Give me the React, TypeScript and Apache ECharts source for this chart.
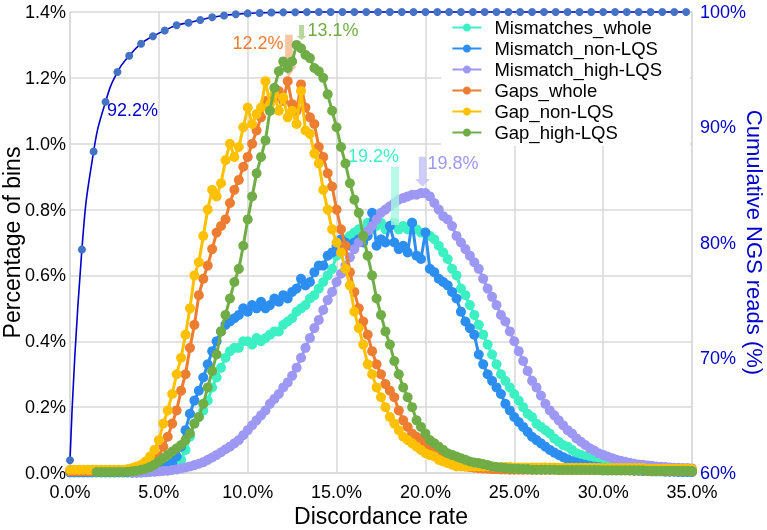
import React, { useEffect, useRef } from "react";
import * as echarts from "echarts";

// Discordance-rate bins (%), 0.25% apart, 0% .. 35%
const bins: number[] = Array.from({ length: 141 }, (_, i) => i * 0.25);

const seriesNames = [
  "Mismatches_whole",
  "Mismatch_non-LQS",
  "Mismatch_high-LQS",
  "Gaps_whole",
  "Gap_non-LQS",
  "Gap_high-LQS",
];
const seriesColors = ["#3DF0C4", "#2B8EF0", "#9C98F4", "#ED7D31", "#FFC000", "#70AD47"];

// Percentage of bins (%), one value per bin
const mismatchesWhole = [
  0.002, 0.002, 0.002, 0.002, 0.002, 0.002, 0.002, 0.002, 0.002, 0.002, 0.002, 0.002, 0.002, 0.002, 0.002, 0.002, 0.002, 0.003, 0.004, 0.005,
  0.007, 0.009, 0.012, 0.016, 0.022, 0.04, 0.07, 0.11, 0.15, 0.17, 0.19, 0.22, 0.26, 0.29, 0.32, 0.35, 0.37, 0.38, 0.38, 0.40,
  0.40, 0.39, 0.41, 0.40, 0.41, 0.42, 0.43, 0.43, 0.45, 0.46, 0.47, 0.49, 0.50, 0.51, 0.53, 0.54, 0.56, 0.58, 0.60, 0.62,
  0.66, 0.68, 0.71, 0.72, 0.73, 0.74, 0.74, 0.76, 0.74, 0.75, 0.76, 0.74, 0.75, 0.76, 0.74, 0.75, 0.74, 0.76, 0.74, 0.73,
  0.73, 0.72, 0.71, 0.69, 0.67, 0.65, 0.62, 0.60, 0.56, 0.54, 0.51, 0.48, 0.45, 0.42, 0.39, 0.36, 0.33, 0.30, 0.28, 0.26,
  0.24, 0.22, 0.20, 0.18, 0.17, 0.15, 0.14, 0.13, 0.12, 0.105, 0.095, 0.085, 0.08, 0.07, 0.06, 0.055, 0.05, 0.045, 0.04, 0.035,
  0.03, 0.026, 0.022, 0.02, 0.017, 0.015, 0.013, 0.011, 0.01, 0.009, 0.008, 0.008, 0.007, 0.007, 0.006, 0.006, 0.005, 0.005, 0.005, 0.004,
  0.004,
];
const mismatchNonLqs = [
  0.002, 0.002, 0.002, 0.002, 0.002, 0.002, 0.002, 0.002, 0.002, 0.002, 0.002, 0.002, 0.002, 0.002, 0.002, 0.002, 0.002, 0.004, 0.006, 0.008,
  0.012, 0.016, 0.022, 0.03, 0.05, 0.08, 0.13, 0.18, 0.22, 0.25, 0.29, 0.33, 0.37, 0.40, 0.43, 0.45, 0.46, 0.47, 0.48, 0.50,
  0.49, 0.51, 0.50, 0.52, 0.50, 0.51, 0.53, 0.52, 0.54, 0.53, 0.55, 0.56, 0.59, 0.57, 0.58, 0.61, 0.63, 0.63, 0.66, 0.67,
  0.69, 0.71, 0.70, 0.69, 0.70, 0.71, 0.70, 0.72, 0.79, 0.69, 0.71, 0.70, 0.75, 0.70, 0.68, 0.69, 0.67, 0.76, 0.66, 0.65,
  0.73, 0.62, 0.61, 0.59, 0.58, 0.57, 0.55, 0.53, 0.49, 0.46, 0.44, 0.42, 0.36, 0.33, 0.30, 0.28, 0.26, 0.24, 0.21, 0.19,
  0.17, 0.155, 0.14, 0.125, 0.11, 0.10, 0.09, 0.08, 0.07, 0.062, 0.055, 0.048, 0.042, 0.036, 0.032, 0.028, 0.025, 0.022, 0.02, 0.018,
  0.016, 0.014, 0.012, 0.011, 0.01, 0.009, 0.008, 0.007, 0.007, 0.006, 0.006, 0.005, 0.005, 0.005, 0.004, 0.004, 0.004, 0.003, 0.003, 0.003,
  0.003,
];
const mismatchHighLqs = [
  null, null, null, null, null, null, null, null, null, null, null, null, null, null, 0.001, 0.001, 0.002, 0.002, 0.003, 0.004,
  0.005, 0.006, 0.007, 0.009, 0.011, 0.014, 0.017, 0.02, 0.024, 0.028, 0.033, 0.04, 0.047, 0.055, 0.063, 0.072, 0.08, 0.09, 0.10, 0.115,
  0.13, 0.145, 0.16, 0.175, 0.19, 0.21, 0.225, 0.24, 0.26, 0.275, 0.295, 0.32, 0.35, 0.38, 0.41, 0.44, 0.465, 0.495, 0.525, 0.55,
  0.58, 0.605, 0.63, 0.655, 0.68, 0.70, 0.72, 0.735, 0.75, 0.77, 0.79, 0.80, 0.81, 0.82, 0.83, 0.835, 0.84, 0.845, 0.845, 0.85,
  0.85, 0.84, 0.82, 0.80, 0.78, 0.77, 0.75, 0.72, 0.70, 0.68, 0.66, 0.64, 0.62, 0.59, 0.56, 0.535, 0.51, 0.48, 0.46, 0.43,
  0.40, 0.37, 0.34, 0.31, 0.28, 0.26, 0.235, 0.21, 0.19, 0.175, 0.16, 0.145, 0.13, 0.12, 0.105, 0.095, 0.085, 0.075, 0.068, 0.06,
  0.055, 0.05, 0.045, 0.04, 0.037, 0.034, 0.031, 0.028, 0.026, 0.025, 0.023, 0.022, 0.02, 0.019, 0.018, 0.017, 0.016, 0.016, 0.015, 0.015,
  0.014,
];
const gapsWhole = [
  0.005, 0.005, 0.005, 0.005, 0.005, 0.005, 0.005, 0.005, 0.005, 0.005, 0.005, 0.005, 0.005, 0.008, 0.01, 0.012, 0.015, 0.02, 0.03, 0.04,
  0.05, 0.08, 0.11, 0.15, 0.19, 0.25, 0.30, 0.38, 0.45, 0.54, 0.59, 0.63, 0.68, 0.73, 0.75, 0.77, 0.82, 0.86, 0.89, 0.93,
  0.96, 1.00, 1.04, 1.08, 1.13, 1.10, 1.14, 1.16, 1.13, 1.19, 1.12, 1.10, 1.18, 1.11, 1.08, 1.06, 0.99, 0.96, 0.91, 0.87,
  0.80, 0.74, 0.69, 0.61, 0.55, 0.50, 0.46, 0.42, 0.37, 0.33, 0.30, 0.27, 0.25, 0.23, 0.19, 0.16, 0.14, 0.12, 0.11, 0.10,
  0.08, 0.07, 0.065, 0.055, 0.045, 0.04, 0.035, 0.03, 0.025, 0.02, 0.018, 0.016, 0.015, 0.014, 0.013, 0.012, 0.012, 0.011, 0.011, 0.01,
  0.01, 0.01, 0.01, 0.01, 0.01, 0.01, 0.01, 0.01, 0.01, 0.01, 0.009, 0.009, 0.009, 0.009, 0.009, 0.009, 0.009, 0.009, 0.009, 0.009,
  0.008, 0.008, 0.008, 0.008, 0.008, 0.008, 0.008, 0.008, 0.008, 0.008, 0.006, 0.006, 0.006, 0.006, 0.006, 0.006, 0.006, 0.006, 0.006, 0.006,
  0.005,
];
const gapNonLqs = [
  0.01, 0.01, 0.01, 0.01, 0.01, 0.01, 0.01, 0.01, 0.01, 0.01, 0.01, 0.01, 0.01, 0.012, 0.015, 0.02, 0.025, 0.035, 0.05, 0.07,
  0.10, 0.15, 0.19, 0.24, 0.30, 0.35, 0.42, 0.50, 0.60, 0.64, 0.72, 0.80, 0.86, 0.84, 0.88, 0.95, 1.00, 0.96, 0.99, 1.05,
  1.11, 1.06, 1.09, 1.11, 1.19, 1.12, 1.15, 1.10, 1.14, 1.08, 1.10, 1.06, 1.16, 1.04, 1.03, 0.97, 0.94, 0.86, 0.80, 0.74,
  0.70, 0.67, 0.62, 0.57, 0.49, 0.44, 0.39, 0.33, 0.30, 0.26, 0.23, 0.20, 0.17, 0.15, 0.13, 0.11, 0.10, 0.09, 0.08, 0.07,
  0.06, 0.055, 0.05, 0.04, 0.035, 0.03, 0.025, 0.02, 0.02, 0.02, 0.02, 0.02, 0.02, 0.02, 0.02, 0.02, 0.018, 0.018, 0.018, 0.018,
  0.017, 0.017, 0.017, 0.017, 0.017, 0.017, 0.017, 0.017, 0.017, 0.017, 0.016, 0.016, 0.016, 0.016, 0.016, 0.016, 0.016, 0.016, 0.016, 0.016,
  0.015, 0.015, 0.015, 0.015, 0.015, 0.015, 0.015, 0.015, 0.015, 0.015, 0.013, 0.013, 0.013, 0.013, 0.013, 0.013, 0.013, 0.013, 0.013, 0.013,
  0.012,
];
const gapHighLqs = [
  null, null, null, null, null, null, 0.003, 0.003, 0.003, 0.003, 0.003, 0.003, 0.003, 0.004, 0.005, 0.007, 0.01, 0.013, 0.018, 0.025,
  0.035, 0.045, 0.055, 0.065, 0.075, 0.085, 0.10, 0.12, 0.15, 0.17, 0.21, 0.26, 0.31, 0.36, 0.43, 0.48, 0.53, 0.58, 0.62, 0.69,
  0.77, 0.84, 0.91, 0.96, 1.01, 1.10, 1.17, 1.22, 1.25, 1.23, 1.25, 1.30, 1.29, 1.27, 1.26, 1.23, 1.22, 1.20, 1.15, 1.10,
  1.05, 0.99, 0.94, 0.88, 0.83, 0.79, 0.72, 0.66, 0.60, 0.53, 0.48, 0.43, 0.39, 0.34, 0.30, 0.26, 0.23, 0.20, 0.16, 0.14,
  0.12, 0.10, 0.09, 0.08, 0.07, 0.06, 0.055, 0.05, 0.045, 0.04, 0.035, 0.032, 0.03, 0.027, 0.024, 0.02, 0.018, 0.017, 0.015, 0.014,
  0.013, 0.013, 0.012, 0.012, 0.01, 0.01, 0.01, 0.01, 0.01, 0.01, 0.009, 0.009, 0.009, 0.009, 0.009, 0.009, 0.009, 0.009, 0.009, 0.009,
  0.008, 0.008, 0.008, 0.008, 0.008, 0.008, 0.008, 0.008, 0.008, 0.008, 0.007, 0.007, 0.007, 0.007, 0.007, 0.007, 0.007, 0.007, 0.007, 0.007,
  0.006,
];
const seriesValues = [mismatchesWhole, mismatchNonLqs, mismatchHighLqs, gapsWhole, gapNonLqs, gapHighLqs];

// Cumulative NGS reads (%), right axis
const cumX = [
  0, 0.67, 1.33, 2, 2.67, 3.33, 4, 4.67, 5.33, 6, 6.67, 7.33, 8, 8.67, 9.33, 10, 10.67, 11.33, 12, 12.67, 13.33,
  14, 14.67, 15.33, 16, 16.67, 17.33, 18, 18.67, 19.33, 20, 20.67, 21.33, 22, 22.67, 23.33, 24, 24.67, 25.33, 26,
  26.67, 27.33, 28, 28.67, 29.33, 30, 30.67, 31.33, 32, 32.67, 33.33, 34, 34.67,
];
const cumY = [
  61.1, 79.4, 87.9, 92.2, 94.8, 96.2, 97.25, 97.9, 98.4, 98.85, 99.07, 99.3, 99.54, 99.7, 99.8, 99.88, 99.92, 99.95, 99.97, 99.98, 99.99,
  100, 100, 100, 100, 100, 100, 100, 100, 100, 100, 100, 100, 100, 100, 100, 100, 100, 100, 100,
  100, 100, 100, 100, 100, 100, 100, 100, 100, 100, 100, 100, 100,
];

// Peak annotations
const peakLabels = ["12.2%", "13.1%", "19.2%", "19.8%"];
const cumLabel = "92.2%";

const FONT = "'Liberation Sans', Arial, Helvetica, sans-serif";
const ARROW = "path://M25,0 L75,0 L75,74 L100,74 L50,100 L0,74 L25,74 Z";
const GRID = "#d9d9d9";

function textPoint(coord: number[], text: string, color: string) {
  return {
    coord,
    symbol: "rect",
    symbolSize: 1,
    itemStyle: { color: "rgba(0,0,0,0)" },
    label: { show: true, position: "inside", formatter: text, color, fontSize: 18, fontFamily: FONT },
  };
}
function arrowPoint(coord: number[], size: number[], color: string, shape = ARROW) {
  return {
    coord,
    symbol: shape,
    symbolSize: size,
    symbolOffset: [0, "-50%"],
    itemStyle: { color },
    label: { show: false },
  };
}

export default function App() {
  const ref = useRef<HTMLDivElement>(null);
  useEffect(() => {
    const chart = echarts.init(ref.current!, null, { renderer: "svg" });

    const marks: any[] = [
      { data: [arrowPoint([18.29, 0.753], [8, 58], "rgba(165,246,224,0.8)", "rect"), textPoint([17.08, 0.963], peakLabels[2], "#3DEFC3")] },
      { data: [] },
      { data: [arrowPoint([19.84, 0.869], [15, 30], "rgba(197,195,248,0.85)"), textPoint([21.55, 0.942], peakLabels[3], "#9C98F4")] },
      { data: [arrowPoint([12.32, 1.203], [15, 42], "rgba(244,177,131,0.75)"), textPoint([10.58, 1.307], peakLabels[0], "#ED7D31")] },
      { data: [] },
      { data: [arrowPoint([13.03, 1.315], [10, 15], "rgba(169,209,142,0.85)"), textPoint([14.8, 1.345], peakLabels[1], "#70AD47")] },
    ];

    const series: any[] = seriesNames.map((name, si) => ({
      name,
      type: "line",
      yAxisIndex: 0,
      data: bins.map((b, i) => [b, seriesValues[si][i]]).filter((p) => p[1] !== null),
      symbol: "circle",
      symbolSize: 10,
      showSymbol: true,
      clip: false,
      color: seriesColors[si],
      lineStyle: { width: 3, color: seriesColors[si] },
      itemStyle: { color: seriesColors[si] },
      z: 2 + si,
      markPoint: { ...marks[si], silent: true, animation: false },
    }));

    series.push({
      name: "Cumulative",
      type: "line",
      yAxisIndex: 1,
      data: cumX.map((x, i) => [x, cumY[i]]),
      smooth: true,
      symbol: "circle",
      symbolSize: 8,
      clip: false,
      lineStyle: { width: 1.6, color: "#0000CC" },
      itemStyle: { color: "#4472C4" },
      z: 20,
      markPoint: { silent: true, animation: false, data: [textPoint([3.52, 91.5], cumLabel, "#0000CC")] },
    });

    chart.setOption({
      animation: false,
      textStyle: { fontFamily: FONT },
      grid: { left: 70, right: 75, top: 12, bottom: 57, containLabel: false, outerBoundsMode: "none" },
      legend: {
        data: seriesNames,
        orient: "vertical",
        right: 77,
        top: 15,
        padding: [3, 28, 4, 10],
        itemGap: 2,
        itemWidth: 29,
        itemHeight: 10,
        backgroundColor: "#ffffff",
        textStyle: { fontSize: 18.5, color: "#000", fontFamily: FONT, padding: [0, 0, 0, 8] },
        z: 10,
      },
      xAxis: {
        type: "value",
        min: 0,
        max: 35,
        interval: 5,
        name: "Discordance rate",
        nameLocation: "middle",
        nameGap: 31,
        nameMoveOverlap: false,
        nameTextStyle: { fontSize: 23, color: "#000", fontFamily: FONT },
        axisLine: { show: true, lineStyle: { color: GRID, width: 1.5 } },
        axisTick: { show: false },
        axisLabel: { fontSize: 18, color: "#000", margin: 10, formatter: (v: number) => v.toFixed(1) + "%" },
        splitLine: { show: true, lineStyle: { color: GRID, width: 1.5 } },
      },
      yAxis: [
        {
          type: "value",
          min: 0,
          max: 1.4,
          interval: 0.2,
          name: "Percentage of bins",
          nameLocation: "middle",
          nameGap: 47,
          nameRotate: 90,
          nameMoveOverlap: false,
          nameTextStyle: { fontSize: 23, color: "#000", fontFamily: FONT },
          axisLine: { show: true, lineStyle: { color: GRID, width: 1.5 } },
          axisTick: { show: false },
          axisLabel: { fontSize: 18, color: "#000", margin: 4, formatter: (v: number) => v.toFixed(1) + "%" },
          splitLine: { show: true, lineStyle: { color: GRID, width: 1.5 } },
        },
        {
          type: "value",
          min: 60,
          max: 100,
          interval: 10,
          position: "right",
          name: "Cumulative NGS reads (%)",
          nameLocation: "middle",
          nameGap: 51,
          nameRotate: -90,
          nameMoveOverlap: false,
          nameTextStyle: { fontSize: 22, color: "#0000CC", fontFamily: FONT },
          axisLine: { show: true, lineStyle: { color: GRID, width: 1.5 } },
          axisTick: { show: false },
          axisLabel: { fontSize: 18, color: "#0000CC", margin: 8, formatter: "{value}%" },
          splitLine: { show: false },
        },
      ],
      series,
    });
    return () => chart.dispose();
  }, []);
  return <div ref={ref} style={{ position: "fixed", left: 0, top: 0, width: 767, height: 530 }} />;
}
